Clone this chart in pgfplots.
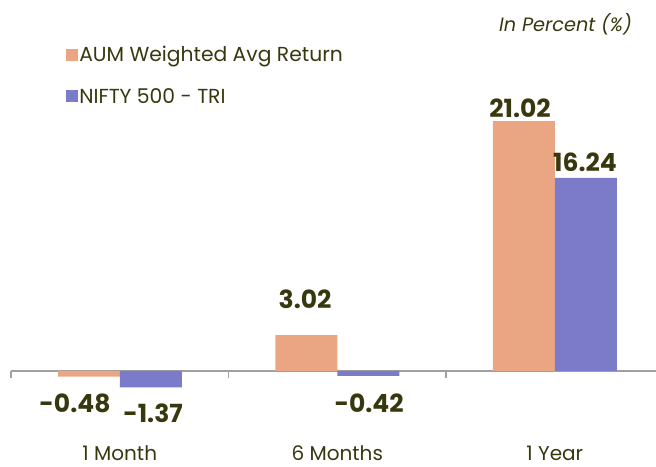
\documentclass[border=0pt]{standalone}
\usepackage{pgfplots}
\pgfplotsset{compat=1.18}
\usepackage{fontspec}
\setmainfont{Poppins}
\definecolor{aum}{HTML}{EAA683}
\definecolor{nif}{HTML}{7B7BCA}
\definecolor{txt}{HTML}{38380F}
\definecolor{axl}{HTML}{A0A0A0}
\begin{document}
\begin{tikzpicture}[x=1pt,y=1pt]
\begin{axis}[name=ax,
  scale only axis, width=656pt, height=466pt,
  xmin=-0.5507, xmax=2.4654, ymin=-7.99, ymax=31.2,
  hide axis, clip=false,
  ybar=0pt, bar width=62pt,
  legend cell align=left,
  legend style={draw=none, fill=none, at={(axis cs:-0.247,27.41)}, anchor=north west,
    inner sep=0pt, font=\fontsize{20.3}{23}\selectfont, text=txt, row sep=23pt,
    nodes={inner sep=1pt},
    /tikz/every even column/.append style={column sep=5pt}},
  legend image code/.code={\fill[#1] (0pt,-6pt) rectangle (12pt,6pt);},
]
\draw[axl, line width=1.2pt] (axis cs:-0.5,0) -- (axis cs:2.4654,0);
\draw[axl, line width=1.2pt] (axis cs:-0.5,0) -- ([yshift=-7pt]axis cs:-0.5,0);
\draw[axl, line width=1.2pt] (axis cs:0.5,0) -- ([yshift=-7pt]axis cs:0.5,0);
\draw[axl, line width=1.2pt] (axis cs:1.5,0) -- ([yshift=-7pt]axis cs:1.5,0);
\addplot[fill=aum, draw=none] coordinates {(0,-0.48) (1,3.02) (2,21.02)};
\addlegendentry{AUM Weighted Avg Return}
\addplot[fill=nif, draw=none] coordinates {(0,-1.37) (1,-0.42) (2,16.24)};
\addlegendentry{NIFTY 500 - TRI}
\begin{scope}[every node/.style={font=\fontsize{25}{28}\selectfont\bfseries, text=txt, anchor=base, inner sep=0pt}]
\node at ([yshift=4pt]axis cs:1.840,21.02) {21.02};
\node at ([yshift=6pt]axis cs:2.139,16.24) {16.24};
\node at ([yshift=27pt]axis cs:0.852,3.02) {3.02};
\node at ([yshift=-42pt]axis cs:-0.206,0) {-0.48};
\node at ([yshift=-52pt]axis cs:0.153,0) {-1.37};
\node at ([yshift=-42pt]axis cs:1.146,0) {-0.42};
\end{scope}
\begin{scope}[every node/.style={font=\fontsize{20}{24}\selectfont, text=txt, anchor=base, inner sep=0pt}]
\node at ([yshift=-90pt]axis cs:0,0) {1 Month};
\node at ([yshift=-90pt]axis cs:1,0) {6 Months};
\node at ([yshift=-90pt]axis cs:2,0) {1 Year};
\node[anchor=base east, font=\fontsize{19.3}{22}\selectfont\itshape] at ([yshift=339pt]axis cs:2.355,0) {In Percent (\%)};
\end{scope}
\end{axis}
\pgfresetboundingbox
\useasboundingbox (ax.south west) rectangle (ax.north east);
\end{tikzpicture}
\end{document}
